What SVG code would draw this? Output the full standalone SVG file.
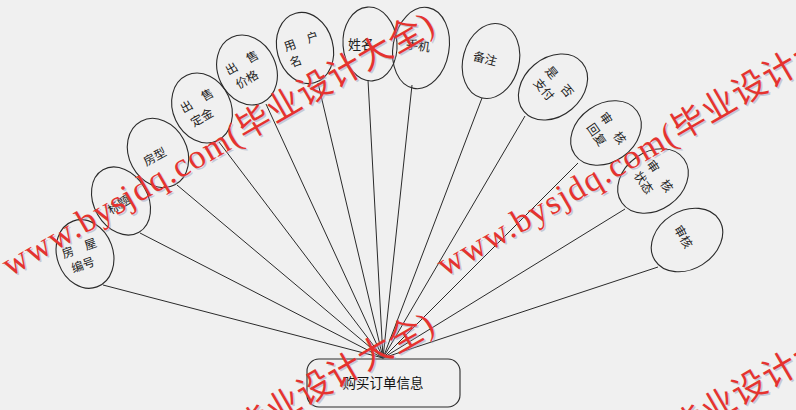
<svg xmlns="http://www.w3.org/2000/svg" xmlns:xlink="http://www.w3.org/1999/xlink" width="796" height="410" viewBox="0 0 796 410">
<style>
.bg{fill:#f0f0f0}
.el{fill:none;stroke:#2a2a2a;stroke-width:1.1}
.bx{fill:none;stroke:#2a2a2a;stroke-width:1.1}
.ln{stroke:#2a2a2a;stroke-width:1;fill:none}
.t{font-family:"Noto Sans CJK SC","Liberation Sans",sans-serif;font-size:12px;fill:#222;text-anchor:middle}
.tb{font-family:"Noto Sans CJK SC","Liberation Sans",sans-serif;font-size:13.5px;fill:#111;text-anchor:middle}
.wm{font-family:"Liberation Serif","Noto Sans CJK SC",serif;font-size:34px;letter-spacing:1.5px}
</style>
<defs>
<text id="wm" class="wm" x="0" y="0">www.bysjdq.com<tspan style="letter-spacing:1px">(毕业设计大全)</tspan></text>
</defs>
<rect class="bg" x="0" y="0" width="796" height="410"/>
<g id="connectors">
<line class="ln" x1="103" y1="285" x2="383" y2="358"/>
<line class="ln" x1="140" y1="233" x2="383" y2="358"/>
<line class="ln" x1="177" y1="185" x2="383" y2="358"/>
<line class="ln" x1="219" y1="142" x2="383" y2="358"/>
<line class="ln" x1="266" y1="104" x2="383" y2="358"/>
<line class="ln" x1="318" y1="83" x2="383" y2="358"/>
<line class="ln" x1="368" y1="80" x2="383" y2="358"/>
<line class="ln" x1="412" y1="85" x2="383" y2="358"/>
<line class="ln" x1="482" y1="98" x2="383" y2="358"/>
<line class="ln" x1="525" y1="116" x2="383" y2="358"/>
<line class="ln" x1="578" y1="163" x2="383" y2="358"/>
<line class="ln" x1="625" y1="209" x2="383" y2="358"/>
<line class="ln" x1="658" y1="267" x2="383" y2="358"/>
</g>
<g id="order">
<rect class="bx" x="307" y="359" width="153" height="48" rx="12"/>
<text class="tb" x="383" y="388">购买订单信息</text>
</g>
<g id="fwbh">
<ellipse class="el" cx="85" cy="254" rx="28" ry="35" transform="rotate(-20 85 254)"/>
<text class="t" transform="rotate(-20 82 256)"><tspan x="82" y="252">房　屋</tspan><tspan x="80" y="269">编号</tspan></text>
</g>
<g id="bt">
<ellipse class="el" cx="121" cy="201" rx="27" ry="36" transform="rotate(-30 121 201)"/>
<text class="t" transform="rotate(-32 119 205)" x="119" y="209">标题</text>
</g>
<g id="fx">
<ellipse class="el" cx="158" cy="153" rx="29" ry="36" transform="rotate(-28 158 153)"/>
<text class="t" transform="rotate(-28 155 157)" x="155" y="161">房型</text>
</g>
<g id="csdj">
<ellipse class="el" cx="202" cy="108" rx="29" ry="36" transform="rotate(-25 202 108)"/>
<text class="t" transform="rotate(-30 201 108)"><tspan x="201" y="104">出　售</tspan><tspan x="197" y="121">定金</tspan></text>
</g>
<g id="csjg">
<ellipse class="el" cx="247" cy="70" rx="29" ry="36" transform="rotate(-25 247 70)"/>
<text class="t" transform="rotate(-30 246 70)"><tspan x="246" y="66">出　售</tspan><tspan x="242" y="83">价格</tspan></text>
</g>
<g id="yhm">
<ellipse class="el" cx="305" cy="48" rx="28" ry="36" transform="rotate(-15 305 48)"/>
<text class="t" transform="rotate(-20 304 49)"><tspan x="304" y="45">用　户</tspan><tspan x="292" y="62">名</tspan></text>
</g>
<g id="xm">
<ellipse class="el" cx="370" cy="44" rx="27" ry="37" transform="rotate(-4 370 44)"/>
<text class="t" style="font-size:13px" x="361" y="49">姓名</text>
</g>
<g id="sj">
<ellipse class="el" cx="421" cy="48" rx="28" ry="41" transform="rotate(10 421 48)"/>
<text class="t" transform="rotate(8 418 46)" x="418" y="50">手机</text>
</g>
<g id="bz">
<ellipse class="el" cx="491" cy="61" rx="28" ry="38" transform="rotate(15 491 61)"/>
<text class="t" transform="rotate(15 485 59)" x="485" y="63">备注</text>
</g>
<g id="sfzf">
<ellipse class="el" cx="553" cy="87" rx="29" ry="38" transform="rotate(50 553 87)"/>
<text class="t" transform="rotate(50 553 87)"><tspan x="553" y="83">是　否</tspan><tspan x="549" y="100">支付</tspan></text>
</g>
<g id="shhf">
<ellipse class="el" cx="606" cy="133" rx="29" ry="38" transform="rotate(55 606 133)"/>
<text class="t" transform="rotate(55 606 133)"><tspan x="606" y="129">审　核</tspan><tspan x="602" y="146">回复</tspan></text>
</g>
<g id="shzt">
<ellipse class="el" cx="653" cy="181" rx="29" ry="38" transform="rotate(55 653 181)"/>
<text class="t" transform="rotate(55 653 181)"><tspan x="653" y="177">审　核</tspan><tspan x="649" y="194">状态</tspan></text>
</g>
<g id="sh">
<ellipse class="el" cx="687" cy="240" rx="29" ry="38" transform="rotate(58 687 240)"/>
<text class="t" transform="rotate(60 683 237)" x="683" y="241">审核</text>
</g>
<g id="watermark">
<use xlink:href="#wm" href="#wm" fill="#8f9bb8" opacity="0.45" transform="translate(11.5,278.5) rotate(-30)"/>
<use xlink:href="#wm" href="#wm" fill="#8f9bb8" opacity="0.45" transform="translate(446.5,278.5) rotate(-30)"/>
<use xlink:href="#wm" href="#wm" fill="#8f9bb8" opacity="0.45" transform="translate(11.5,578.5) rotate(-30)"/>
<use xlink:href="#wm" href="#wm" fill="#8f9bb8" opacity="0.45" transform="translate(446.5,578.5) rotate(-30)"/>
<use xlink:href="#wm" href="#wm" fill="#e5332f" transform="translate(10,277) rotate(-30)"/>
<use xlink:href="#wm" href="#wm" fill="#e5332f" transform="translate(445,277) rotate(-30)"/>
<use xlink:href="#wm" href="#wm" fill="#e5332f" transform="translate(10,577) rotate(-30)"/>
<use xlink:href="#wm" href="#wm" fill="#e5332f" transform="translate(445,577) rotate(-30)"/>
</g>
</svg>
